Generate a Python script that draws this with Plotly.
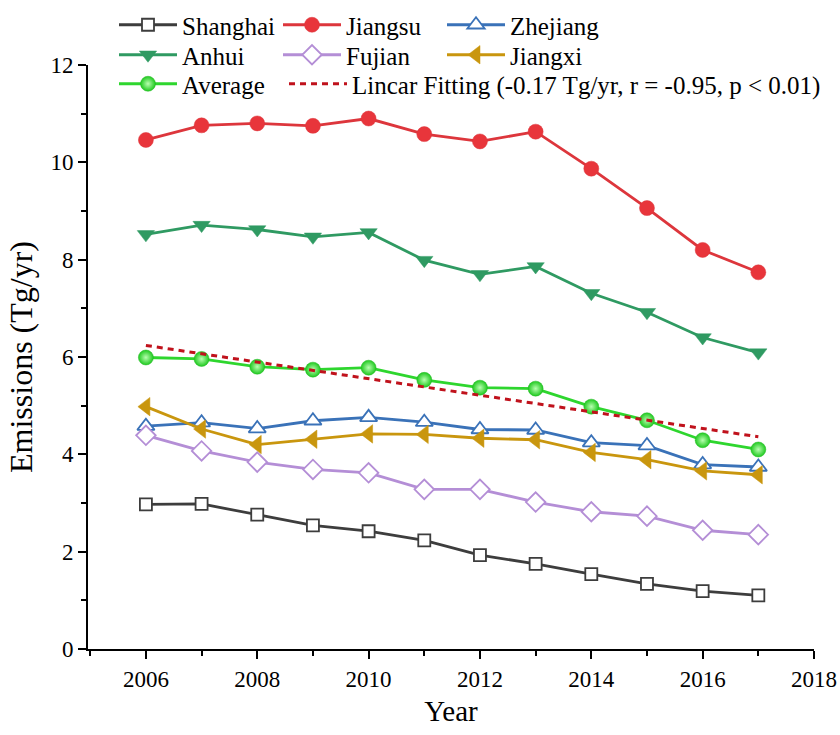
import numpy as np
import plotly.graph_objects as go

years = list(range(2006, 2018))

shanghai = [2.97, 2.98, 2.76, 2.54, 2.42, 2.23, 1.93, 1.75, 1.54, 1.34, 1.19, 1.10]
jiangsu = [10.46, 10.76, 10.80, 10.75, 10.90, 10.58, 10.43, 10.63, 9.87, 9.06, 8.20, 7.74]
zhejiang = [4.58, 4.65, 4.53, 4.69, 4.76, 4.66, 4.51, 4.50, 4.24, 4.18, 3.79, 3.74]
anhui = [8.52, 8.71, 8.62, 8.47, 8.56, 7.99, 7.70, 7.86, 7.31, 6.92, 6.40, 6.09]
fujian = [4.39, 4.07, 3.84, 3.69, 3.62, 3.28, 3.28, 3.02, 2.82, 2.73, 2.44, 2.35]
jiangxi = [4.98, 4.52, 4.20, 4.31, 4.42, 4.41, 4.33, 4.30, 4.04, 3.89, 3.66, 3.58]
average = [5.99, 5.96, 5.80, 5.74, 5.78, 5.53, 5.37, 5.35, 4.98, 4.70, 4.29, 4.10]

fit_label = "Lincar Fitting (-0.17 Tg/yr, r = -0.95, p < 0.01)"
x_ticks = [2006, 2008, 2010, 2012, 2014, 2016, 2018]
y_ticks = [0, 2, 4, 6, 8, 10, 12]

FONT = "Liberation Serif"

# least-squares trend of the regional average
slope, intercept = np.polyfit(years, average, 1)
fit_vals = [slope * y + intercept for y in years]

series = [
    # name, values, line colour, marker symbol, marker fill, size, legend row
    ("Shanghai", shanghai, "#3d3d3d", "square", "white", 12, "legend"),
    ("Jiangsu", jiangsu, "#dd363c", "circle", "#e8353b", 15, "legend"),
    ("Zhejiang", zhejiang, "#3a72b8", "triangle-up", "white", 15, "legend"),
    ("Anhui", anhui, "#2f9a62", "triangle-down", "#2f9a62", 15, "legend2"),
    ("Fujian", fujian, "#b48ed6", "diamond", "white", 15, "legend2"),
    ("Jiangxi", jiangxi, "#c9960e", "triangle-left", "#c9960e", 16, "legend2"),
]

fig = go.Figure()
for name, vals, col, sym, fill, size, leg in series:
    fig.add_trace(go.Scatter(
        x=years, y=vals, name=name, mode="lines+markers",
        line=dict(color=col, width=2.8),
        marker=dict(symbol=sym, size=size, color=fill,
                    line=dict(color=col, width=1.8 if fill == "white" else 0.5)),
        legend=leg,
    ))

fig.add_trace(go.Scatter(
    x=years, y=average, name="Average", mode="lines+markers",
    line=dict(color="#2ed62e", width=2.8),
    marker=dict(symbol="circle", size=15, color="#1fc91f",
                gradient=dict(type="radial", color="#b8ffb0"),
                line=dict(color="#22b822", width=0.5)),
    legend="legend3",
))

fig.add_trace(go.Scatter(
    x=years, y=fit_vals, name=fit_label, mode="lines",
    line=dict(color="#c0121c", width=3, dash="6px,5px"),
    legend="legend4",
))


def legend_box(x_px, y_px, entry=91):
    return dict(
        orientation="h", xref="container", yref="container",
        x=x_px / 840, y=1 - y_px / 735, xanchor="left", yanchor="middle",
        font=dict(family=FONT, size=25, color="black"),
        itemwidth=58, entrywidth=entry, entrywidthmode="pixels",
        bgcolor="rgba(0,0,0,0)", borderwidth=0,
        itemclick=False, itemdoubleclick=False,
    )


axis_common = dict(
    showgrid=False, zeroline=False, showline=True,
    linecolor="black", linewidth=2,
    ticks="outside", ticklen=8, tickwidth=2, tickcolor="black",
    tickfont=dict(family=FONT, size=23, color="black"),
    mirror=False,
)

fig.update_layout(
    width=840, height=735,
    margin=dict(l=88, r=26, t=65, b=86, autoexpand=False),
    plot_bgcolor="white", paper_bgcolor="white",
    font=dict(family=FONT, color="black"),
    legend=legend_box(114, 25),
    legend2=legend_box(114, 55),
    legend3=legend_box(114, 84),
    legend4=legend_box(284, 84, entry=500),
    xaxis=dict(
        range=[2004.96, 2018], tickvals=x_ticks,
        minor=dict(dtick=1, tick0=2005, ticks="outside", ticklen=5,
                   tickwidth=2, tickcolor="black"),
        title=dict(text="Year", font=dict(family=FONT, size=29), standoff=10),
        **axis_common,
    ),
    yaxis=dict(
        range=[0, 12], tickvals=y_ticks,
        minor=dict(dtick=1, tick0=0, ticks="outside", ticklen=5,
                   tickwidth=2, tickcolor="black"),
        title=dict(text="Emissions (Tg/yr)", font=dict(family=FONT, size=32), standoff=8),
        **axis_common,
    ),
)

fig.write_html("out.html")
